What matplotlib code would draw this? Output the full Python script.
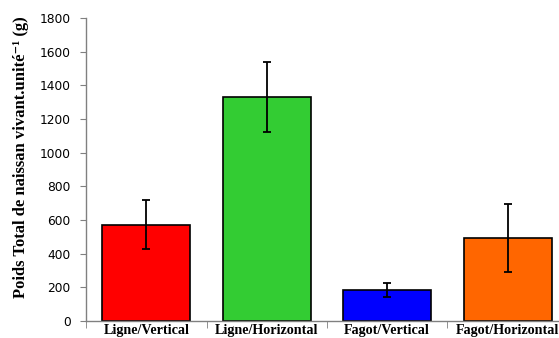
import matplotlib
matplotlib.use("Agg")
import matplotlib.pyplot as plt
import numpy as np

# Poids total des naissains vivants par unité, par mode de collecte
categories = ["Ligne/Vertical", "Ligne/Horizontal", "Fagot/Vertical", "Fagot/Horizontal"]
means = [573, 1330, 183, 493]
errors = [147, 210, 40, 200]
colors = ["#FF0000", "#33CC33", "#0000FF", "#FF6600"]

fig = plt.figure(figsize=(5.59, 3.38), dpi=100)
ax = fig.add_axes([0.154, 0.0503, 0.862, 0.8964])

x = np.arange(len(categories))
ax.bar(x, means, width=0.73, color=colors, edgecolor="black", linewidth=1.2, zorder=2)
ax.errorbar(x, means, yerr=errors, fmt="none", ecolor="black", elinewidth=1.3,
            capsize=3, capthick=1.3, zorder=3)

ax.set_xlim(-0.5, len(categories) - 0.5)
ax.set_ylim(0, 1800)
ax.set_yticks(np.arange(0, 1801, 200))
for lbl in ax.get_yticklabels():
    lbl.set_fontfamily("DejaVu Sans")
    lbl.set_fontsize(8.8)

# category labels centred, tick marks on the boundaries
ax.set_xticks(x)
ax.set_xticklabels(categories, fontfamily="Liberation Serif", fontweight="bold", fontsize=10.2)
ax.tick_params(axis="x", length=0, pad=2)
ax.set_xticks(np.arange(-0.5, len(categories) + 0.5, 1), minor=True)
ax.tick_params(axis="x", which="minor", length=5, color="#808080", direction="out")
ax.tick_params(axis="y", length=4, color="#808080", direction="out", pad=7)

for side in ["top", "right"]:
    ax.spines[side].set_visible(False)
for side in ["left", "bottom"]:
    ax.spines[side].set_color("#808080")
    ax.spines[side].set_linewidth(1.0)

fig.text(0.037, 0.535, "Poids Total de naissan vivant.unité⁻¹ (g)", rotation=90,
         ha="center", va="center", fontsize=12, fontweight="bold",
         family=["Liberation Serif", "DejaVu Serif"])

fig.savefig("out.png", dpi=100)
